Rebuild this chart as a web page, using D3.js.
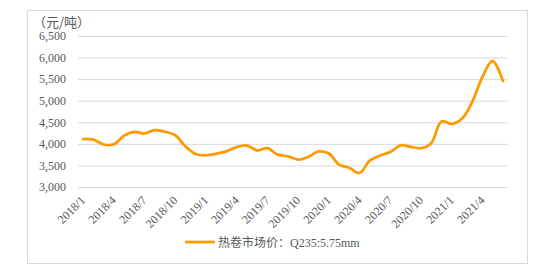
<!DOCTYPE html>
<html><head><meta charset="utf-8">
<script src="https://cdn.jsdelivr.net/npm/d3@7"></script>
<style>body{margin:0;background:#fff}svg{display:block}</style>
</head><body>
<svg id="c" width="550" height="268"></svg>
<script>
const months = [];
for (let yr = 2018; yr <= 2021; yr++) for (let m = 1; m <= 12; m++) { if (yr === 2021 && m > 6) break; months.push(yr + "/" + m); }
const prices = [4110,4100,3985,3990,4190,4280,4240,4320,4280,4200,3940,3765,
                3735,3770,3825,3925,3960,3850,3900,3750,3710,3635,3700,3825,
                3775,3520,3445,3325,3610,3730,3810,3965,3930,3900,4015,4520,
                4460,4580,4970,5550,5920,5460];
const yTicks = [3000,3500,4000,4500,5000,5500,6000,6500];
const xTickLabels = months.filter((d,i) => i % 3 === 0 && i < 40);
const seriesName = "热卷市场价：Q235:5.75mm";
const unitLabel = "（元/吨）";

(function(){
const svg = d3.select("#c");
const pl = 78, pr = 508, pt = 36, pb = 187;
svg.append("rect").attr("x",27.5).attr("y",10.5).attr("width",500).attr("height",253)
  .attr("fill","#fff").attr("stroke","#d9d9d9");

const x = d3.scaleBand().domain(months).range([pl,pr]);
const y = d3.scaleLinear().domain([3000,6500]).range([pb,pt]);
const serif = "'Liberation Serif','Times New Roman',serif";

const yAxis = svg.append("g").attr("transform",`translate(${pl},0)`)
  .call(d3.axisLeft(y).tickValues(yTicks).tickFormat(d3.format(",")).tickSize(-(pr-pl)).tickPadding(12));
yAxis.select(".domain").remove();
yAxis.selectAll(".tick line").attr("stroke","#d9d9d9");
yAxis.selectAll(".tick text").attr("fill","#595959").attr("font-family",serif).attr("font-size",12);

const xAxis = svg.append("g").attr("transform",`translate(0,${pb})`)
  .call(d3.axisBottom(x).tickValues(xTickLabels).tickSize(0).tickPadding(0));
xAxis.select(".domain").remove();
xAxis.selectAll(".tick text").attr("fill","#595959").attr("font-family",serif).attr("font-size",12)
  .attr("text-anchor","end").attr("dy",0)
  .attr("transform","translate(3,14) rotate(-45)");

svg.append("text").attr("x",33).attr("y",27).text(unitLabel)
  .attr("font-family","'Noto Sans CJK SC',sans-serif").attr("font-size",13).attr("fill","#595959");

const line = d3.line().x((d,i) => x(months[i]) + x.bandwidth()/2).y(d => y(d)).curve(d3.curveCatmullRom.alpha(0.5));
svg.append("path").datum(prices).attr("d",line).attr("fill","none")
  .attr("stroke","#ff9900").attr("stroke-width",2.75).attr("stroke-linecap","round");

const lg = svg.append("g").attr("transform","translate(185,242)");
lg.append("line").attr("x1",0).attr("x2",30).attr("stroke","#ff9900").attr("stroke-width",2.75);
lg.append("text").attr("x",33).attr("y",4.5).attr("fill","#595959").attr("font-size",12)
  .attr("font-family",serif + ",'Noto Sans CJK SC'")
  .text(seriesName);
})();
</script>
</body></html>
